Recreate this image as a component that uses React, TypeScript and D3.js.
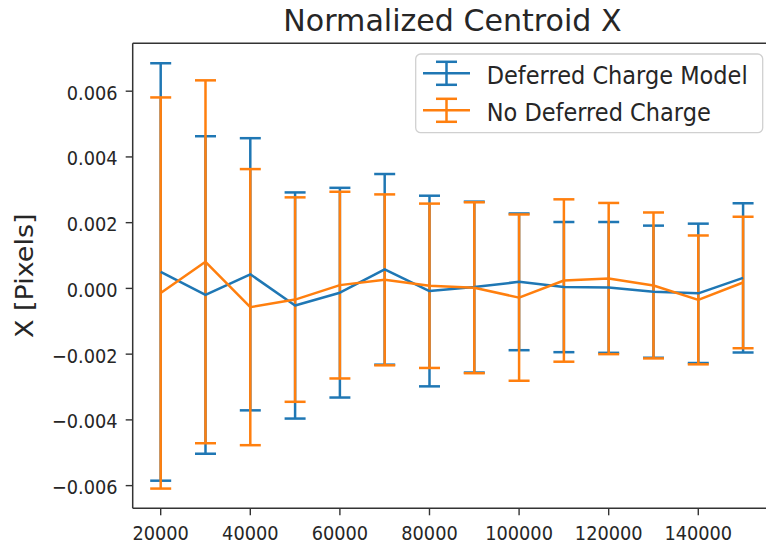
import React from "react";
import * as d3 from "d3";

const xValues = [20000, 30000, 40000, 50000, 60000, 70000, 80000, 90000, 100000, 110000, 120000, 130000, 140000, 150000];
const deferredMean = [0.0005, -0.0002, 0.00043, -0.00052, -0.00013, 0.00058, -0.00008, 0.00004, 0.0002, 0.00004, 0.00003, -0.0001, -0.00015, 0.00032];
const deferredErr = [0.00635, 0.00483, 0.00414, 0.00344, 0.00319, 0.0029, 0.0029, 0.0026, 0.00208, 0.00198, 0.00199, 0.00201, 0.00212, 0.00227];
const noDeferredMean = [-0.00014, 0.00081, -0.00057, -0.00034, 0.0001, 0.00026, 0.00008, 0.00002, -0.00028, 0.00024, 0.0003, 0.00009, -0.00035, 0.00018];
const noDeferredErr = [0.00595, 0.00552, 0.0042, 0.00311, 0.00284, 0.0026, 0.0025, 0.0026, 0.00253, 0.00247, 0.0023, 0.00222, 0.00196, 0.002];
const xTicks = [20000, 40000, 60000, 80000, 100000, 120000, 140000];
const yTicks = [-0.006, -0.004, -0.002, 0, 0.002, 0.004, 0.006];
const seriesNames = ["Deferred Charge Model", "No Deferred Charge"];
const title = "Normalized Centroid X";
const yLabel = "X [Pixels]";

const W = 766, H = 543;
const left = 132.7, right = 772.2, top = 43.2, bottom = 508.3;
const SX = 0.91;
const FONT = "DejaVu Sans";
const BLUE = "#1f77b4", ORANGE = "#ff7f0e";
const LW = 2.5, CAP = 10.5;

export default function App() {
  const x = d3.scaleLinear().domain([13750, 156500]).range([left, right]);
  const y = d3.scaleLinear().domain([-0.00669, 0.00746]).range([bottom, top]);
  const series = [
    { name: seriesNames[0], mean: deferredMean, err: deferredErr, color: BLUE },
    { name: seriesNames[1], mean: noDeferredMean, err: noDeferredErr, color: ORANGE },
  ];
  const line = d3.line<number>().x((_, i) => x(xValues[i])).y((d) => y(d));
  const fmtY = d3.format(".3f");

  const txt = (tx: number, ty: number, s: string, size: number, anchor: string, sx: number = SX) => (
    <text
      transform={`translate(${tx},${ty}) scale(${sx},1)`}
      fontFamily={FONT}
      fontSize={size}
      textAnchor={anchor}
      fill="#262626"
    >
      {s}
    </text>
  );

  return (
    <svg width={W} height={H} style={{ position: "fixed", left: 0, top: 0, background: "#fff" }}>
      <rect width={W} height={H} fill="#fff" />
      {series.map((s) => (
        <g key={s.name + "bars"} stroke={s.color} strokeWidth={LW} fill="none">
          {xValues.map((xv, i) => {
            const lo = y(s.mean[i] - s.err[i]);
            const hi = y(s.mean[i] + s.err[i]);
            const cx = x(xv);
            return (
              <g key={xv}>
                <line x1={cx} x2={cx} y1={lo} y2={hi} />
                <line x1={cx - CAP} x2={cx + CAP} y1={lo} y2={lo} />
                <line x1={cx - CAP} x2={cx + CAP} y1={hi} y2={hi} />
              </g>
            );
          })}
        </g>
      ))}
      {series.map((s) => (
        <path key={s.name + "line"} d={line(s.mean) || ""} stroke={s.color} strokeWidth={LW} fill="none" strokeLinejoin="round" />
      ))}
      <g stroke="#333" strokeWidth={1.5} fill="none">
        <line x1={left} x2={left} y1={top} y2={bottom} />
        <line x1={left} x2={right} y1={bottom} y2={bottom} />
        <line x1={left} x2={right} y1={top} y2={top} />
        <line x1={right} x2={right} y1={top} y2={bottom} />
      </g>
      {xTicks.map((t) => (
        <g key={"xt" + t}>
          <line x1={x(t)} x2={x(t)} y1={bottom} y2={bottom + 7} stroke="#333" strokeWidth={1.4} />
          {txt(x(t), 539.5, String(t), 19.5, "middle")}
        </g>
      ))}
      {yTicks.map((t) => (
        <g key={"yt" + t}>
          <line x1={left - 7} x2={left} y1={y(t)} y2={y(t)} stroke="#333" strokeWidth={1.4} />
          {txt(117.5, y(t) + 8.5, t === 0 ? "0.000" : fmtY(t).replace("-", "\u2212"), 19.5, "end")}
        </g>
      ))}
      {txt((left + right) / 2, 31, title, 29.5, "middle", 1.02)}
      <text
        transform={`translate(33,${(top + bottom) / 2}) rotate(-90) scale(1,${SX})`}
        fontFamily={FONT}
        fontSize={27}
        textAnchor="middle"
        fill="#262626"
      >
        {yLabel}
      </text>
      <rect x={415.7} y={54} width={347} height={78.7} rx={5} ry={5} fill="#fff" fillOpacity={0.8} stroke="#d0d0d0" strokeWidth={1.3} />
      {series.map((s, i) => {
        const cy = i === 0 ? 73.3 : 110.3;
        const cx = 446.5;
        return (
          <g key={s.name + "leg"}>
            <g stroke={s.color} strokeWidth={LW}>
              <line x1={423} x2={470} y1={cy} y2={cy} />
              <line x1={cx} x2={cx} y1={cy - 11.5} y2={cy + 11.5} />
              <line x1={cx - CAP} x2={cx + CAP} y1={cy - 11.5} y2={cy - 11.5} />
              <line x1={cx - CAP} x2={cx + CAP} y1={cy + 11.5} y2={cy + 11.5} />
            </g>
            {txt(486.7, i === 0 ? 84 : 120.5, s.name, 24.7, "start")}
          </g>
        );
      })}
    </svg>
  );
}
